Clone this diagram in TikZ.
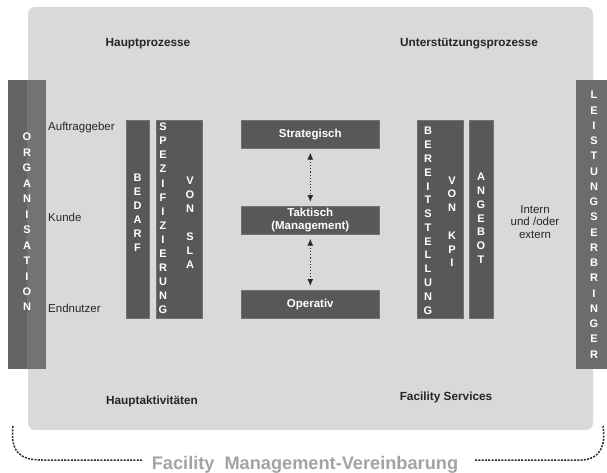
\documentclass[tikz,border=0pt]{standalone}
\usepackage{fontspec}
\setmainfont{Liberation Sans}
\usetikzlibrary{arrows.meta}
\definecolor{bgpanel}{HTML}{D9D9D9}
\definecolor{barfill}{HTML}{585858}
\definecolor{baredge}{HTML}{727272}
\definecolor{outerbar}{HTML}{6C6C6C}
\definecolor{outerbarL}{HTML}{646464}
\definecolor{outerbarR}{HTML}{737373}
\definecolor{brace}{HTML}{2A2A2A}
\definecolor{agree}{HTML}{A3A3A3}
\tikzset{
  vl/.style={text=white,font=\fontsize{11}{11}\selectfont\bfseries,inner sep=0pt,anchor=base},
  heading/.style={font=\fontsize{11.8}{13}\selectfont\bfseries,inner sep=0pt,anchor=base,text=black!85},
  side/.style={font=\fontsize{11.5}{13}\selectfont,inner sep=0pt,anchor=base west,text=black!85},
  darkbar/.style={fill=barfill,draw=baredge,line width=0.6pt},
  levelbox/.style={fill=barfill,draw=baredge,line width=0.6pt,minimum width=138pt,minimum height=28pt,inner sep=0pt,text=white,font=\fontsize{11.5}{12.5}\selectfont\bfseries,align=center,anchor=north west},
  dotarrow/.style={{Latex[length=7pt,width=6pt]}-{Latex[length=7pt,width=6pt]},dotted,line width=1.1pt,draw=brace},
  bracedash/.style={draw=brace,line width=1.5pt,dash pattern=on 2pt off 1.3pt}
}
\newcommand\vletters[4]{%
  \foreach \c [count=\i from 0] in {#4} {\node[vl] at (#1,{#2+\i*#3+4}) {\c};}%
}
\begin{document}
\begin{tikzpicture}[x=1pt,y=-1pt]
\useasboundingbox (0,0) rectangle (607,473);
\fill[white] (0,0) rectangle (607,473);
% panel
\fill[bgpanel,rounded corners=7pt] (28,7) rectangle (593,430);
% outer bars
\fill[outerbarL] (8,80) rectangle (27,369);
\fill[outerbarR] (27,80) rectangle (46,369);
\fill[outerbar] (576,80) rectangle (607,369);
\vletters{27}{137}{15.45}{O,R,G,A,N,I,S,A,T,I,O,N}
\vletters{594}{95}{15.24}{L,E,I,S,T,U,N,G,S,E,R,B,R,I,N,G,E,R}
% headings
\node[heading] (hp) at (148,46.5) {Hauptprozesse};
\node[heading] (ha) at (152,404) {Hauptaktivitäten};
\node[heading] (up) at (469,46.5) {Unterstützungsprozesse};
\node[heading] (fs) at (446,400) {Facility Services};
% side labels
\node[side] (ag) at (48,130.5) {Auftraggeber};
\node[side] (ku) at (48,221.5) {Kunde};
\node[side] (en) at (48,312.3) {Endnutzer};
\node[font=\fontsize{11.5}{12.5}\selectfont,align=center,inner sep=0pt,text=black!85] (ie) at (535,222) {Intern\\und /oder\\extern};
% left bars
\draw[darkbar] (126,120) rectangle (149,318);
\vletters{137.5}{178}{13.8}{B,E,D,A,R,F}
\draw[darkbar] (156,120) rectangle (202,318);
\vletters{163}{127}{14}{S,P,E,Z,I,F,I,Z,I,E,R,U,N,G}
\vletters{190}{180}{14}{V,O,N,{},S,L,A}
% right bars
\draw[darkbar] (417,120) rectangle (463,318);
\vletters{428}{131}{13.77}{B,E,R,E,I,T,S,T,E,L,L,U,N,G}
\vletters{452}{180}{13.8}{V,O,N,{},K,P,I}
\draw[darkbar] (469,120) rectangle (493,318);
\vletters{481}{177}{13.7}{A,N,G,E,B,O,T}
% level boxes
\node[levelbox] (st) at (241,120) {Strategisch};
\node[levelbox] (tk) at (241,206) {Taktisch\\(Management)};
\node[levelbox] (op) at (241,290) {Operativ};
\draw[dotarrow] ([yshift=-4pt]st.south) -- ([yshift=4pt]tk.north);
\draw[dotarrow] ([yshift=-4pt]tk.south) -- ([yshift=4pt]op.north);
% agreement brace
\node[font=\fontsize{18.2}{20}\selectfont\bfseries,text=agree,inner sep=0pt,anchor=base] (fmv) at (305,469) {Facility\hspace{0.55em}Management-Vereinbarung};
\coordinate (lt) at (13,426);
\coordinate (la) at (143,460);
\coordinate (ra) at (475,460);
\coordinate (rt) at (603,426);
\draw[bracedash] (lt) .. controls (10,452) and (20,460) .. (42,460) -- (la);
\draw[bracedash] (ra) -- (582,460) .. controls (600,459) and (606,446) .. (rt);
\end{tikzpicture}
\end{document}
